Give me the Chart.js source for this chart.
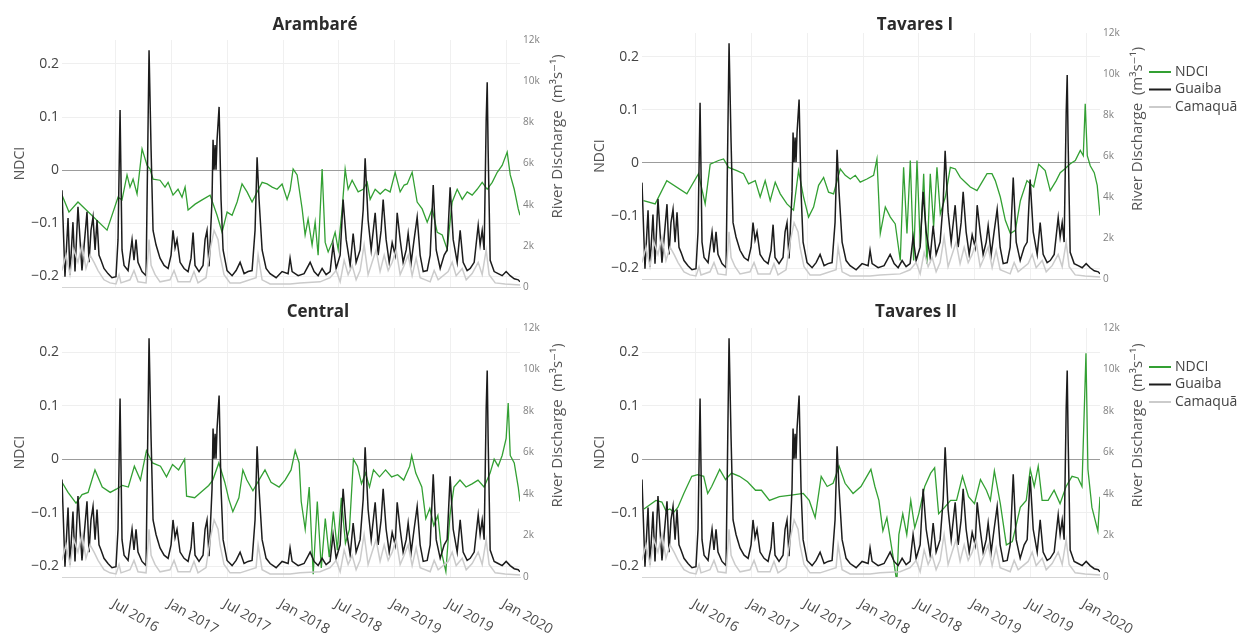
<!DOCTYPE html>
<html>
<head>
<meta charset="utf-8">
<title>NDCI and river discharge</title>
<script src="https://cdn.jsdelivr.net/npm/chart.js@4.4.1/dist/chart.umd.min.js"></script>
<style>
  html, body { margin: 0; padding: 0; background: #fff; }
  body { width: 1256px; height: 642px; position: relative; overflow: hidden; }
  canvas { position: absolute; }
</style>
</head>
<body>
<canvas id="c-arambare" width="580" height="300" style="left:0;top:0"></canvas>
<canvas id="c-tavares1" width="676" height="300" style="left:580px;top:0"></canvas>
<canvas id="c-central" width="580" height="342" style="left:0;top:300px"></canvas>
<canvas id="c-tavares2" width="676" height="342" style="left:580px;top:300px"></canvas>
<script>
// x values are months counted from 1 Jan 2016

// ======================
// DISCHARGE (m3/s)
// ======================
const guaibaMonths = [
  0.20,0.52,0.85,1.06,1.38,1.60,1.92,2.35,2.89,3.11,
  3.32,3.54,3.76,3.97,4.18,4.40,4.72,5.15,5.58,6.01,
  6.23,6.45,6.66,6.88,7.31,7.74,7.95,8.17,8.38,8.81,
  9.25,9.57,9.79,10.00,10.32,10.75,11.19,11.62,11.94,12.15,
  12.37,12.58,12.91,13.34,13.77,14.09,14.31,14.52,14.95,15.38,
  15.60,15.81,16.03,16.35,16.46,16.57,16.68,16.78,16.89,17.11,
  17.32,17.54,17.97,18.51,18.94,19.37,19.80,20.23,20.66,20.98,
  21.20,21.41,21.74,22.17,22.60,23.25,23.89,24.54,24.75,24.97,
  25.62,26.26,26.91,27.34,27.77,28.20,28.63,29.06,29.38,29.71,
  30.14,30.46,30.79,31.22,31.54,31.86,32.29,32.62,32.83,33.15,
  33.48,33.91,34.23,34.55,34.77,35.09,35.42,35.74,36.06,36.28,
  36.60,36.92,37.25,37.46,37.79,38.10,38.43,38.75,39.08,39.51,
  39.83,40.16,40.48,40.91,41.34,41.66,41.98,42.31,42.74,43.06,
  43.38,43.81,44.14,44.57,45.00,45.21,45.43,45.64,45.86,45.97,
  46.07,46.29,46.72,47.15,47.58,48.01,48.44,48.88,49.31,49.50
];
const guaibaFlow = [
  4700,500,3350,600,3150,750,3900,800,3650,1200,
  2750,3400,1800,3250,1550,1300,900,650,450,500,
  2300,8600,1800,1050,800,2300,1300,2300,1200,750,
  550,11500,6650,2750,2050,1400,1050,900,1550,2750,
  1900,2300,1200,900,750,1400,2650,1050,750,1050,
  2300,2750,1000,4250,7150,5700,6900,5700,7150,8750,
  4250,1800,800,550,800,1200,650,750,800,2750,
  6300,4250,1800,900,650,450,750,650,1400,750,
  550,650,1200,750,550,900,600,750,2050,900,
  1550,4250,2300,1050,2600,1200,1800,3750,6250,3250,
  1800,3600,1550,2750,4250,2300,1200,2150,1550,3600,
  2300,1200,1800,2600,1200,2300,3400,1550,750,800,
  1550,4950,1800,900,1550,1800,4850,2300,1200,2750,
  1200,800,900,1200,3000,2050,2750,1800,8100,9950,
  6650,1300,750,650,550,750,550,400,350,250
];

const camaquaMonths = [
  0.20,0.63,1.06,1.49,1.92,2.35,2.78,3.22,3.65,4.08,
  4.72,5.37,6.01,6.34,6.55,7.52,7.95,8.38,9.25,9.57,
  9.79,10.22,10.75,11.83,12.26,12.69,13.98,14.41,14.84,15.70,
  16.14,16.57,17.00,17.21,17.64,18.29,19.37,21.09,21.31,21.74,
  22.60,24.75,25.83,27.98,29.06,29.71,30.14,30.57,31.00,31.43,
  31.86,32.29,32.72,33.15,33.58,34.01,34.44,34.88,35.31,35.74,
  36.17,36.60,37.03,37.46,37.89,38.32,38.75,39.83,40.26,40.69,
  41.77,42.20,42.63,43.28,43.71,44.35,45.00,45.43,45.86,46.18,
  46.83,47.90,49.50
];
const camaquaFlow = [
  800,1550,600,1800,1200,2050,900,1550,1200,800,
  350,200,150,600,200,350,800,250,200,2300,
  1050,600,250,350,800,250,250,750,200,450,
  1800,2750,2300,1550,600,200,200,450,1550,350,
  150,150,200,250,450,800,250,1300,600,1050,
  350,800,2050,600,1200,1800,750,1550,800,1200,
  1800,600,1050,1550,550,1400,450,250,800,350,
  750,1200,550,900,350,650,1200,600,1800,600,
  200,150,100
];

// ======================
// NDCI PER SITE
// ======================
const arambareMonths = [
  0.20,0.95,1.92,5.05,6.23,6.66,7.20,7.52,7.85,8.28,
  8.82,9.36,9.68,10.00,10.75,11.29,11.62,12.15,12.69,13.12,
  13.45,13.77,14.53,15.28,16.14,16.89,17.43,17.97,18.51,19.05,
  19.58,20.12,20.66,21.20,21.74,22.28,22.82,23.35,23.89,24.43,
  24.75,25.08,25.51,26.05,26.37,26.69,27.12,27.45,27.77,28.20,
  28.53,28.85,29.28,29.60,29.93,30.36,30.68,31.00,31.43,32.08,
  32.62,33.05,33.37,33.91,34.45,34.99,35.52,36.06,36.60,37.03,
  37.36,37.89,38.43,38.97,39.51,40.05,40.59,41.13,41.66,42.20,
  42.74,43.28,43.82,44.35,44.89,45.43,45.97,46.51,47.05,47.58,
  48.12,48.45,48.88,49.31,49.50
];
const arambareNdci = [
  -0.047,-0.079,-0.060,-0.113,-0.051,-0.056,-0.009,-0.032,-0.017,-0.045,
  0.040,0.009,0.002,-0.017,-0.019,-0.032,-0.023,-0.047,-0.036,-0.051,
  -0.032,-0.075,-0.064,-0.056,-0.047,-0.085,-0.117,-0.079,-0.085,-0.060,
  -0.026,-0.041,-0.060,-0.041,-0.023,-0.026,-0.032,-0.036,-0.026,-0.055,
  -0.038,0.002,-0.009,-0.073,-0.122,-0.092,-0.141,-0.098,-0.160,0.002,
  -0.136,-0.154,-0.136,-0.117,-0.149,-0.073,0.002,-0.036,-0.019,-0.041,
  -0.036,-0.023,-0.055,-0.036,-0.045,-0.036,-0.041,-0.004,-0.041,-0.028,
  -0.026,-0.004,-0.060,-0.073,-0.098,-0.073,-0.117,-0.122,-0.149,-0.060,
  -0.036,-0.055,-0.041,-0.047,-0.036,-0.023,-0.036,-0.023,-0.004,0.009,
  0.034,-0.009,-0.036,-0.073,-0.085
];

const tavares1Months = [
  0.36,1.62,2.87,5.03,6.28,7.00,7.54,8.44,8.98,9.51,
  10.41,11.13,11.67,12.39,12.92,13.46,14.00,14.54,15.08,15.80,
  16.51,17.05,17.59,18.13,18.67,19.21,19.75,20.28,20.82,21.54,
  22.08,22.62,23.16,23.69,24.41,25.13,25.49,25.85,26.39,26.93,
  27.46,28.00,28.36,28.72,29.08,29.44,29.80,30.16,30.52,30.87,
  31.23,31.59,31.95,32.31,32.85,33.39,33.93,34.46,35.00,35.54,
  36.26,36.80,37.34,37.87,38.23,38.77,39.31,39.85,40.39,40.93,
  41.64,42.36,42.90,43.60,44.14,44.79,45.22,45.76,46.30,46.84,
  47.38,47.70,47.91,48.13,48.45,48.88,49.20,49.50
];
const tavares1Ndci = [
  -0.072,-0.078,-0.034,-0.059,-0.021,-0.078,-0.003,0.004,0.007,-0.009,
  -0.015,-0.021,-0.040,-0.034,-0.065,-0.034,-0.072,-0.037,-0.059,-0.078,
  -0.090,-0.015,-0.065,-0.103,-0.084,-0.043,-0.028,-0.056,-0.059,-0.012,
  -0.024,-0.031,-0.024,-0.037,-0.031,-0.024,0.007,-0.134,-0.084,-0.103,
  -0.116,-0.185,-0.009,-0.134,0.004,-0.185,0.004,-0.159,-0.021,-0.191,
  -0.021,-0.122,-0.009,-0.097,-0.065,-0.009,-0.012,-0.028,-0.037,-0.046,
  -0.053,-0.037,-0.021,-0.021,-0.034,-0.065,-0.109,-0.134,-0.128,-0.072,
  -0.034,-0.046,-0.003,-0.015,-0.053,-0.034,-0.019,-0.011,-0.002,0.004,
  0.023,0.013,0.111,0.013,-0.006,-0.019,-0.043,-0.100
];

const centralMonths = [
  0.20,0.85,1.71,2.36,3.01,3.75,4.53,5.39,6.04,6.69,
  7.34,7.99,8.64,9.29,9.94,10.80,11.45,12.10,12.75,13.40,
  13.61,14.48,15.34,15.99,16.43,17.08,17.72,18.16,18.59,19.24,
  19.67,20.10,20.75,21.40,22.05,22.70,23.57,24.21,24.86,25.30,
  25.73,25.95,26.38,26.81,27.24,27.68,28.11,28.54,28.97,29.41,
  29.84,30.27,30.71,31.14,31.57,32.00,32.44,32.87,33.30,33.73,
  34.38,35.03,35.68,36.33,36.98,37.63,37.84,38.28,38.93,39.36,
  39.79,40.22,40.66,41.09,41.52,41.96,42.39,43.04,43.69,44.34,
  44.98,45.63,46.28,46.72,47.15,47.58,48.01,48.23,48.45,48.88,
  49.31,49.50
];
const centralNdci = [
  -0.043,-0.062,-0.082,-0.066,-0.062,-0.020,-0.052,-0.062,-0.056,-0.049,
  -0.052,-0.013,-0.039,0.016,-0.007,-0.013,-0.033,-0.010,-0.020,0.000,
  -0.069,-0.072,-0.059,-0.049,-0.039,-0.007,-0.043,-0.075,-0.098,-0.072,
  -0.020,-0.039,-0.059,-0.039,-0.020,-0.043,-0.052,-0.039,-0.020,0.016,
  -0.007,-0.079,-0.131,-0.052,-0.215,-0.079,-0.203,-0.111,-0.183,-0.098,
  -0.170,-0.072,-0.157,-0.131,0.000,-0.013,-0.046,-0.026,-0.052,-0.020,
  -0.033,-0.020,-0.033,-0.029,-0.039,-0.013,0.007,-0.026,-0.052,-0.111,
  -0.092,-0.124,-0.105,-0.177,-0.210,-0.105,-0.052,-0.039,-0.052,-0.046,
  -0.039,-0.052,-0.026,0.000,-0.013,0.007,0.039,0.105,0.007,-0.007,
  -0.052,-0.079
];

const tavares2Months = [
  0.41,1.70,2.34,2.77,3.20,3.63,4.06,4.70,5.56,6.20,
  6.84,7.27,7.70,8.56,9.20,9.84,10.70,11.56,12.42,13.06,
  13.92,14.99,16.27,17.56,18.20,18.84,19.49,20.13,20.77,21.42,
  22.06,22.92,23.77,24.84,25.27,25.70,26.13,26.56,27.20,27.63,
  27.85,28.27,28.70,29.13,29.56,29.99,30.63,31.27,31.70,32.13,
  32.77,33.42,34.06,34.70,35.35,35.99,36.63,37.27,37.70,38.13,
  38.77,39.42,40.06,40.49,40.92,41.56,41.99,42.42,42.85,43.27,
  43.92,44.56,45.20,45.85,46.49,47.13,47.56,47.99,48.20,48.63,
  49.27,49.50
];
const tavares2Ndci = [
  -0.093,-0.077,-0.080,-0.096,-0.093,-0.099,-0.090,-0.064,-0.032,-0.029,
  -0.032,-0.064,-0.051,-0.019,-0.038,-0.026,-0.032,-0.042,-0.058,-0.058,
  -0.077,-0.070,-0.067,-0.064,-0.077,-0.109,-0.032,-0.051,-0.045,-0.013,
  -0.045,-0.064,-0.051,-0.019,-0.051,-0.077,-0.134,-0.109,-0.179,-0.230,
  -0.141,-0.102,-0.141,-0.077,-0.128,-0.102,-0.051,-0.026,-0.016,-0.102,
  -0.090,-0.077,-0.077,-0.032,-0.070,-0.083,-0.038,-0.058,-0.077,-0.022,
  -0.083,-0.160,-0.154,-0.122,-0.090,-0.077,-0.019,-0.051,-0.013,-0.077,
  -0.077,-0.058,-0.083,-0.051,-0.032,-0.035,-0.051,0.198,-0.019,-0.090,
  -0.134,-0.070
];

// ======================
// AXES
// ======================
const tickMonths = [6, 12, 18, 24, 30, 36, 42, 48];
const tickLabels = ['Jul 2016', 'Jan 2017', 'Jul 2017', 'Jan 2018',
                    'Jul 2018', 'Jan 2019', 'Jul 2019', 'Jan 2020'];
const seriesNames = ['NDCI', 'Guaiba', 'Camaquã'];
const rightTitle = 'River Discharge  (m\u00b3s\u207b\u00b9)';

const FONT = '"Open Sans", "DejaVu Sans", sans-serif';
const GREEN = '#33a033';
const BLACK = '#1c1c1c';
const GREY = '#cbcbcb';

Chart.defaults.font.family = FONT;
Chart.defaults.color = '#444';

const panels = [
    { id: 'c-arambare', title: 'Arambaré', months: arambareMonths, ndci: arambareNdci,
      top: 40, bottom: 13, rightPad: 0, titleX: 315, titleY: 25, xLabels: false, legend: false },
    { id: 'c-tavares1', title: 'Tavares I', months: tavares1Months, ndci: tavares1Ndci,
      top: 33, bottom: 21, rightPad: 96, titleX: 335, titleY: 25, xLabels: false, legend: true },
    { id: 'c-central', title: 'Central', months: centralMonths, ndci: centralNdci,
      top: 28, bottom: 65, rightPad: 0, titleX: 318, titleY: 12, xLabels: true, legend: false },
    { id: 'c-tavares2', title: 'Tavares II', months: tavares2Months, ndci: tavares2Ndci,
      top: 28, bottom: 65, rightPad: 96, titleX: 336, titleY: 12, xLabels: true, legend: true }
];

function toPoints(xs, ys) {
    return xs.map((x, i) => ({ x: x, y: ys[i] }));
}

function fmtNdci(v) {
    const r = Math.round(v * 10) / 10;
    if (r === 0) return '0';
    return r < 0 ? '\u2212' + Math.abs(r) : String(r);
}

// titles, right axis title, rotated date labels, legend
function decorations(p) {
    return {
        id: 'deco',
        afterDraw(chart) {
            const ctx = chart.ctx;
            const a = chart.chartArea;

            ctx.save();
            ctx.fillStyle = '#2b2b2b';
            ctx.font = 'bold 17px ' + FONT;
            ctx.textAlign = 'center';
            ctx.textBaseline = 'middle';
            ctx.fillText(p.title, p.titleX, p.titleY);

            ctx.save();
            ctx.translate(a.right + 38, (a.top + a.bottom) / 2 - 27);
            ctx.rotate(-Math.PI / 2);
            ctx.font = '15px ' + FONT;
            ctx.fillStyle = '#555';
            ctx.fillText(rightTitle, 0, 0);
            ctx.restore();

            if (p.xLabels) {
                const xs = chart.scales.x;
                ctx.font = '14px ' + FONT;
                ctx.fillStyle = '#4a4a4a';
                ctx.textAlign = 'left';
                tickMonths.forEach((m, i) => {
                    ctx.save();
                    ctx.translate(xs.getPixelForValue(m) - 3, a.bottom + 26);
                    ctx.rotate(Math.PI / 6);
                    ctx.fillText(tickLabels[i], 0, 0);
                    ctx.restore();
                });
            }

            if (p.legend) {
                ctx.font = '14px ' + FONT;
                ctx.textAlign = 'left';
                seriesNames.forEach((name, i) => {
                    const ds = chart.data.datasets.find(d => d.label === name);
                    const y = a.top + 39 + i * 17.5;
                    ctx.strokeStyle = ds.borderColor;
                    ctx.lineWidth = 2;
                    ctx.beginPath();
                    ctx.moveTo(a.right + 49, y);
                    ctx.lineTo(a.right + 71, y);
                    ctx.stroke();
                    ctx.fillStyle = '#444';
                    ctx.fillText(name, a.right + 75, y);
                });
            }
            ctx.restore();
        }
    };
}

panels.forEach(p => {
    new Chart(document.getElementById(p.id), {
        type: 'line',
        data: {
            datasets: [
                { label: 'Camaquã', data: toPoints(camaquaMonths, camaquaFlow), yAxisID: 'y1',
                  borderColor: GREY, borderWidth: 1.5 },
                { label: 'Guaiba', data: toPoints(guaibaMonths, guaibaFlow), yAxisID: 'y1',
                  borderColor: BLACK, borderWidth: 1.5 },
                { label: 'NDCI', data: toPoints(p.months, p.ndci), yAxisID: 'y',
                  borderColor: GREEN, borderWidth: 1.3 }
            ]
        },
        options: {
            responsive: false,
            animation: false,
            devicePixelRatio: 1,
            events: [],
            layout: { padding: { left: 0, right: p.rightPad, top: p.top, bottom: p.bottom } },
            elements: {
                point: { radius: 0 },
                line: { tension: 0, fill: false }
            },
            plugins: {
                legend: { display: false },
                tooltip: { enabled: false },
                title: { display: false }
            },
            scales: {
                x: {
                    type: 'linear',
                    min: 0.2,
                    max: 49.5,
                    afterBuildTicks: s => { s.ticks = tickMonths.map(v => ({ value: v })); },
                    afterFit: s => { s.height = 0; },
                    ticks: { display: false },
                    grid: { color: '#f0f0f0', drawTicks: false },
                    border: { display: true, color: '#d4d4d4' }
                },
                y: {
                    position: 'left',
                    min: -0.22,
                    max: 0.245,
                    afterFit: s => { s.width = 62; },
                    ticks: {
                        stepSize: 0.1,
                        includeBounds: false,
                        padding: 3,
                        font: { size: 14 },
                        color: '#444',
                        callback: v => fmtNdci(v)
                    },
                    grid: {
                        drawTicks: false,
                        color: c => Math.abs(c.tick.value) < 1e-9 ? '#9c9c9c' : '#efefef'
                    },
                    border: { display: false },
                    title: {
                        display: true,
                        text: 'NDCI',
                        font: { size: 14 },
                        color: '#555',
                        padding: { top: 12, bottom: 0 }
                    }
                },
                y1: {
                    position: 'right',
                    min: 0,
                    max: 12000,
                    afterFit: s => { s.width = 60; },
                    ticks: {
                        stepSize: 2000,
                        padding: 3,
                        font: { size: 10 },
                        color: '#808080',
                        callback: v => v === 0 ? '0' : (v / 1000) + 'k'
                    },
                    grid: { display: false, drawTicks: false },
                    border: { display: false }
                }
            }
        },
        plugins: [decorations(p)]
    });
});
</script>
</body>
</html>
